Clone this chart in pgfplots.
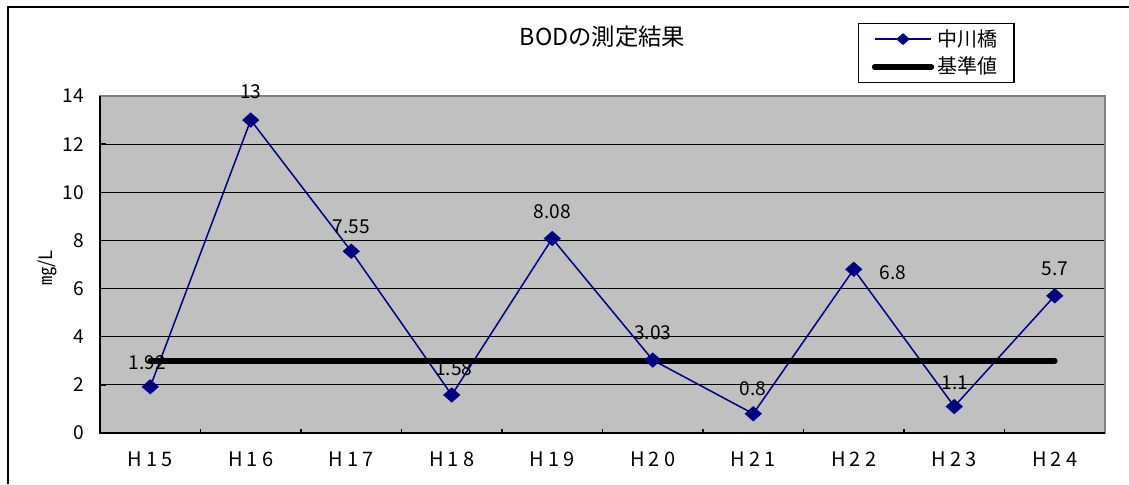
\documentclass[border=0pt]{standalone}
\usepackage{fontspec}
\setmainfont{Noto Sans CJK JP}
\newfontfamily\widefont[LetterSpace=20]{Noto Sans CJK JP}
\usepackage{pgfplots}
\usepackage{pgfplotstable}
\pgfplotsset{compat=1.18}
\definecolor{plotgray}{HTML}{C0C0C0}
\definecolor{navyline}{HTML}{000080}
\definecolor{edgegray}{HTML}{808080}

% year, BOD value, label text, label offsets (pt)
\pgfplotstableread{
x y lab dx dy
0 1.92 1.92 -1.8 14.4
1 13 13 0 16.8
2 7.55 7.55 0 14.4
3 1.58 1.58 1.2 15.6
4 8.08 8.08 0 16.2
5 3.03 3.03 0 16.2
6 0.8 0.8 0 15
7 6.8 6.8 23.4 -1.8
8 1.1 1.1 0.6 14.4
9 5.7 5.7 0 16.2
}\bod

\begin{document}
\begin{tikzpicture}
\useasboundingbox (0,0) rectangle (677.4pt,290.4pt);
\draw[black, line width=0.9pt] (4.8pt,0) -- (4.8pt,286.2pt) -- (677.4pt,286.2pt);
\begin{axis}[
  at={(60pt,30.6pt)}, anchor=south west,
  scale only axis, width=603pt, height=202.2pt,
  xmin=-0.5, xmax=9.5, ymin=0, ymax=14,
  clip=false,
  axis background/.style={fill=plotgray},
  axis line style={edgegray, line width=0.9pt},
  xtick={0,...,9},
  xticklabels={H15,H16,H17,H18,H19,H20,H21,H22,H23,H24},
  major x tick style={draw=none},
  minor xtick={-0.5,0.5,...,9.5},
  ytick={0,2,...,14},
  xtick pos=bottom, ytick pos=left,
  tick align=inside,
  tick style={black, line width=0.9pt},
  major tick length=3.6pt, minor tick length=2.4pt,
  ymajorgrids,
  major grid style={black, line width=0.6pt},
  /pgf/number format/assume math mode=true,
  yticklabel style={font=\fontsize{11.5}{13}\selectfont, xshift=-6pt},
  xticklabel style={font=\widefont\fontsize{12}{14}\selectfont, yshift=-8pt},
  title={BODの測定結果},
  title style={at={(0.5,1.145)}, anchor=center, font=\fontsize{14}{16}\selectfont},
  legend style={at={(0.754,1.217)}, anchor=north west, draw=black, line width=0.9pt,
    font=\fontsize{12}{14}\selectfont, inner xsep=8pt, inner ysep=1.5pt,
    row sep=1pt, cells={anchor=west}},
  legend image code/.code={\draw[#1, mark repeat=2, mark phase=2, mark size=3pt]
    plot coordinates {(0pt,0pt) (17pt,0pt) (34pt,0pt)};},
]
\addplot[navyline, line width=0.9pt, mark=diamond*,
  mark size=4pt, mark options={xscale=1.5, solid, fill=navyline},
  point meta=explicit symbolic,
  nodes near coords,
  visualization depends on={\thisrow{dx} \as \dx},
  visualization depends on={\thisrow{dy} \as \dy},
  every node near coord/.append style={anchor=center, black,
    font=\fontsize{11.5}{13}\selectfont, xshift={\dx pt}, yshift={\dy pt}},
] table[x=x, y=y, meta=lab] {\bod};
\addlegendentry{中川橋}
\addplot[black, line width=3.4pt, line cap=round] coordinates {(0,3) (9,3)};
\addlegendentry{基準値}
\draw[black, line width=1pt] (rel axis cs:0,1) -- (rel axis cs:0,0) -- (rel axis cs:1,0);
\node[rotate=90, font=\fontsize{11}{13}\selectfont] at (axis description cs:-0.052,0.49) {㎎/L};
\end{axis}
\end{tikzpicture}
\end{document}
